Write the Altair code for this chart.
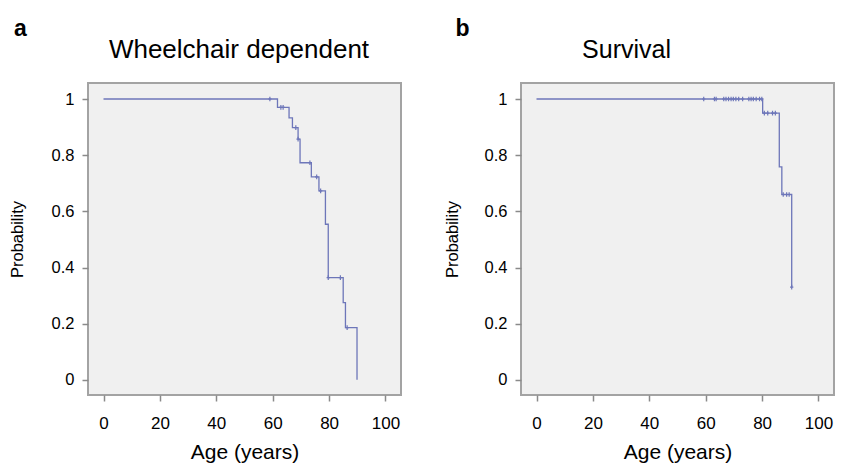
import altair as alt
import pandas as pd

# ---------- data ----------
# Panel a: Wheelchair dependent (Kaplan-Meier steps)
a_step_age = [0, 61.7, 65.8, 67.0, 69.0, 69.7, 73.7, 76.4, 78.7, 79.7, 85.0, 85.8, 89.9]
a_step_prob = [1.0, 0.97, 0.933, 0.898, 0.857, 0.773, 0.723, 0.673, 0.554, 0.364, 0.275, 0.186, 0.0]
a_cens_age = [59.0, 62.9, 63.7, 68.2, 69.0, 73.2, 75.6, 77.0, 79.7, 84.0, 86.4]
a_cens_prob = [1.0, 0.97, 0.97, 0.898, 0.857, 0.773, 0.723, 0.673, 0.364, 0.364, 0.186]

# Panel b: Survival
b_step_age = [0, 80.2, 86.1, 87.0, 90.5]
b_step_prob = [1.0, 0.95, 0.758, 0.66, 0.33]
b_cens_age = [59.3, 63.1, 63.7, 66.4, 67.2, 68.1, 69.0, 69.8, 70.7, 71.7, 73.1, 75.3, 76.1,
              76.9, 77.9, 79.1, 79.9, 80.8, 82.0, 83.7, 84.7, 87.5, 88.7, 89.6, 90.5]
b_cens_prob = [1.0] * 17 + [0.95] * 4 + [0.66] * 3 + [0.33]

x_ticks = [0, 20, 40, 60, 80, 100]
y_ticks = [0, 0.2, 0.4, 0.6, 0.8, 1]

titles = ["Wheelchair dependent", "Survival"]
letters = ["a", "b"]

LINE = "#6d76b9"
FONT = "Liberation Sans"

xscale = alt.Scale(domain=[-5.5, 105.5], nice=False, zero=False)
yscale = alt.Scale(domain=[-0.054, 1.057], nice=False, zero=False)

W, H = 313, 312


def panel(step_age, step_prob, cens_age, cens_prob, title, letter, title_cx, title_fs,
          letter_cx, ytitle_x):
    steps = pd.DataFrame({"age": step_age, "prob": step_prob})
    cens = pd.DataFrame({"age": cens_age, "prob": cens_prob})
    xenc = alt.X("age:Q", scale=xscale,
                 axis=alt.Axis(values=x_ticks, title="Age (years)", format="d"))
    yenc = alt.Y("prob:Q", scale=yscale,
                 axis=alt.Axis(values=y_ticks, title="Probability", format="~g",
                               titleX=ytitle_x, titleY=H / 2, titleBaseline="bottom",
                               titleAlign="center", titleAngle=270))
    line = alt.Chart(steps).mark_line(interpolate="step-after", color=LINE,
                                      strokeWidth=1.3).encode(x=xenc, y=yenc)
    pts = alt.Chart(cens).mark_point(shape="M0,-1V1M-0.7,0H0.7", size=22, filled=False,
                                     color=LINE, strokeWidth=1.2, opacity=1).encode(x=xenc, y=yenc)
    txt = pd.DataFrame({"t": [letter, title], "kind": ["letter", "title"]})
    lab = alt.Chart(txt).transform_filter(alt.datum.kind == "letter").mark_text(
        font=FONT, fontSize=23, fontWeight="bold", align="center", baseline="alphabetic",
        color="black").encode(x=alt.value(letter_cx), y=alt.value(-47), text="t:N")
    ttl = alt.Chart(txt).transform_filter(alt.datum.kind == "title").mark_text(
        font=FONT, fontSize=title_fs, align="center", baseline="alphabetic",
        color="black").encode(x=alt.value(title_cx), y=alt.value(-25), text="t:N")
    return alt.layer(line, pts, lab, ttl).properties(width=W, height=H)


pa = panel(a_step_age, a_step_prob, a_cens_age, a_cens_prob, titles[0], letters[0],
           151, 26, -67.5, -63)
pb = panel(b_step_age, b_step_prob, b_cens_age, b_cens_prob, titles[1], letters[1],
           105.5, 25, -58.5, -61)

chart = alt.hconcat(pa, pb, spacing=120).properties(
    padding={"left": 0, "top": 9, "right": 0, "bottom": 0},
    bounds="flush",
).configure_view(
    fill="#f0f0f0", stroke="#a3a3a3", strokeWidth=2
).configure_axis(
    domain=False, grid=False, tickColor="#8a8a8a", tickSize=6, tickWidth=1.5,
    labelFont=FONT, titleFont=FONT, labelColor="black", titleColor="black",
    titleFontWeight="normal"
).configure_axisX(
    labelFontSize=17, labelPadding=14, titleFontSize=21, titlePadding=10
).configure_axisY(
    labelFontSize=16.5, labelPadding=8, titleFontSize=16.5
)

chart.save("out.html", embed_options={"renderer": "svg", "actions": False})
